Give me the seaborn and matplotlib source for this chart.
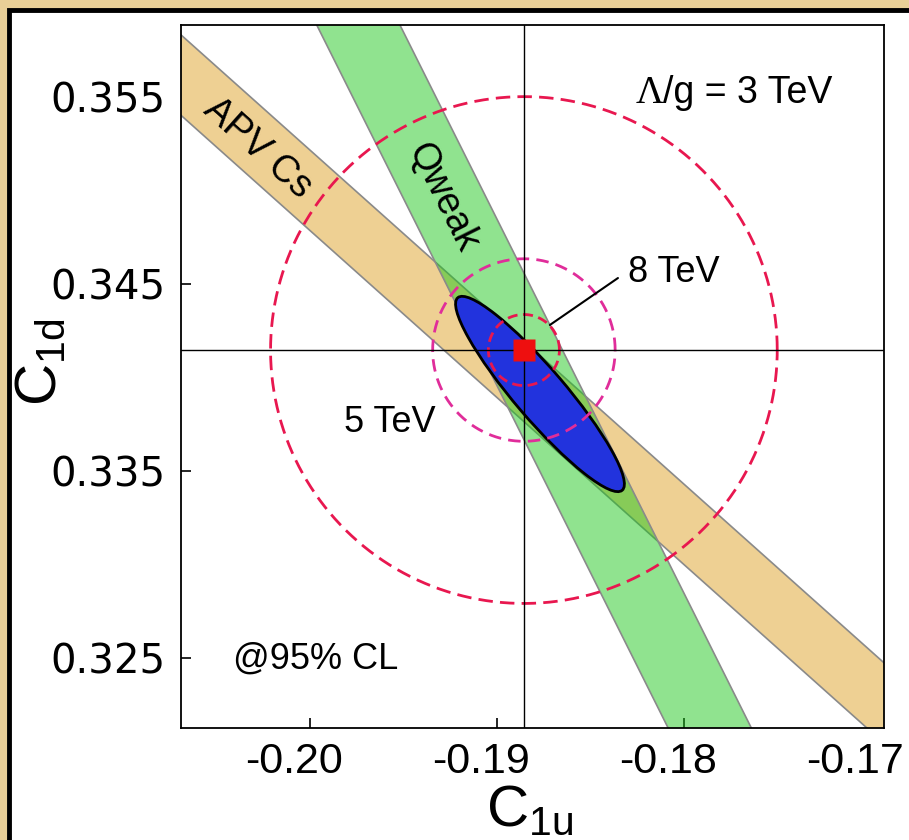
import numpy as np
import pandas as pd
import matplotlib
matplotlib.use("Agg")
import matplotlib.pyplot as plt
import matplotlib.transforms as mtransforms
import seaborn as sns
from matplotlib.patches import Ellipse, Rectangle

# standart model nöqtəsi (C1u, C1d)
sm_point = [-0.18856, 0.34147]

# APV Cs zolağı: C1d + slope*C1u = center +- halfwidth
apv_slope = 0.893
apv_center = 0.17141
apv_halfwidth = 0.00215

# Qweak zolağı
qweak_slope = 2.0
qweak_center = -0.03598
qweak_halfwidth = 0.00445

# birləşmiş ellips (95% CL)
ellipse_center = [-0.18770, 0.33912]
ellipse_axes = [0.00677, 0.00135]
ellipse_angle = -49.5

# Λ/g dairələri
scales = ["3 TeV", "5 TeV", "8 TeV"]
radii = [0.01355, 0.00488, 0.00190]
circle_colors = ["#e8174f", "#e02d9a", "#e8174f"]

xticks = [-0.20, -0.19, -0.18, -0.17]
yticks = [0.325, 0.335, 0.345, 0.355]
xlim = [-0.2069, -0.1693]
ylim = [0.32126, 0.35885]

sns.set_style("white")
plt.rcParams["font.family"] = ["Liberation Sans", "DejaVu Sans"]
plt.rcParams["mathtext.fontset"] = "custom"
plt.rcParams["mathtext.rm"] = "Liberation Sans"
for k in ["text.color", "axes.labelcolor", "xtick.color", "ytick.color"]:
    plt.rcParams[k] = "black"

fig = plt.figure(figsize=(9.09, 8.4), dpi=100, facecolor="#e9cf97")
frame = Rectangle((8.5 / 909, -0.2), 1.2, 1.2 - 9.5 / 840,
                  transform=fig.transFigure, facecolor="white",
                  edgecolor="black", lw=3.5, zorder=-10)
fig.patches.append(frame)
ax = fig.add_axes([181 / 909, 112 / 840, 703 / 909, 703 / 840])
ax.set_zorder(1)

# ======================
# zolaqlar
# ======================
xs = np.linspace(-0.215, -0.16, 50)
apv = pd.DataFrame({"C1u": xs,
                    "lo": apv_center - apv_halfwidth - apv_slope * xs,
                    "hi": apv_center + apv_halfwidth - apv_slope * xs})
qw = pd.DataFrame({"C1u": xs,
                   "lo": qweak_center - qweak_halfwidth - qweak_slope * xs,
                   "hi": qweak_center + qweak_halfwidth - qweak_slope * xs})

ax.fill_between(apv["C1u"], apv["lo"], apv["hi"], color="#eed093", lw=0, zorder=1)
for col in ["lo", "hi"]:
    sns.lineplot(data=apv, x="C1u", y=col, color="#8a8a8a", lw=1.2, ax=ax, zorder=2)
ax.fill_between(qw["C1u"], qw["lo"], qw["hi"], color="#1dc61b", alpha=0.49, lw=0, zorder=3)
for col in ["lo", "hi"]:
    sns.lineplot(data=qw, x="C1u", y=col, color="#8a8a8a", lw=1.2, ax=ax, zorder=4)

# ======================
# ellips
# ======================
ax.add_patch(Ellipse(ellipse_center, 2 * ellipse_axes[0], 2 * ellipse_axes[1],
                     angle=ellipse_angle, facecolor="#2233dd", edgecolor="black",
                     lw=2, zorder=5))

# ======================
# dairələr
# ======================
t = np.linspace(0, 2 * np.pi, 600)
dash_styles = [(0, (5.2, 2.6)), (0, (4.5, 2.6)), (0, (3.6, 2.0))]
for r, c, ls in zip(radii, circle_colors, dash_styles):
    circ = pd.DataFrame({"x": sm_point[0] + r * np.cos(t),
                         "y": sm_point[1] + r * np.sin(t)})
    sns.lineplot(data=circ, x="x", y="y", sort=False, estimator=None,
                 color=c, lw=2.0, linestyle=ls, ax=ax, zorder=6)

ax.axvline(sm_point[0], color="black", lw=1.0, zorder=7)
ax.axhline(sm_point[1], color="black", lw=1.0, zorder=7)
ax.plot([sm_point[0]], [sm_point[1]], marker="s", ms=16, color="#ee0f0f",
        mec="none", zorder=8)

# ======================
# yazılar
# ======================
ax.text(-0.20278, 0.35227, "APV Cs", rotation=-np.degrees(np.arctan(apv_slope)),
        fontsize=27, ha="center", va="center", rotation_mode="anchor", zorder=9)
ax.text(-0.19289, 0.34965, "Qweak", rotation=-np.degrees(np.arctan(qweak_slope)),
        fontsize=27, ha="center", va="center", rotation_mode="anchor", zorder=9)
ax.text(-0.18110, 0.35521, "Λ", fontsize=28, ha="right", va="center",
        family="Liberation Serif")
ax.text(-0.18110, 0.35521, "/g = " + scales[0], fontsize=27, ha="left", va="center")
ax.text(-0.18299, 0.34564, scales[2], fontsize=26, ha="left", va="center")
ax.plot([-0.18717, -0.18353], [0.34281, 0.34532], color="black", lw=1.5, zorder=9)
ax.text(-0.19572, 0.33757, scales[1], fontsize=26, ha="center", va="center")
ax.text(-0.19968, 0.32495, "@95% CL", fontsize=26, ha="center", va="center")

ax.set_xlim(xlim)
ax.set_ylim(ylim)
ax.set_xticks(xticks)
ax.set_yticks(yticks)
ax.set_xticklabels([f"{v:.2f}" for v in xticks], fontsize=31)
ax.set_yticklabels([f"{v:.3f}" for v in yticks], fontsize=29, family="DejaVu Sans")
ax.tick_params(direction="in", length=7, width=1.2, bottom=True, left=True)
ax.tick_params(axis="x", pad=10)
ax.tick_params(axis="y", pad=11)
shift = mtransforms.ScaledTranslation(-0.16, 0, fig.dpi_scale_trans)
for lab in ax.get_xticklabels():
    lab.set_transform(lab.get_transform() + shift)
ax.set_xlabel("")
ax.set_ylabel("")
for s in ax.spines.values():
    s.set_linewidth(1.3)
    s.set_color("black")
    s.set_zorder(10)

fig.text(530 / 909, 1 - 810 / 840, r"C$_{\rm 1u}$", fontsize=42, ha="center", va="center")
fig.text(40 / 909, 1 - 362 / 840, r"C$_{\rm 1d}$", fontsize=42, ha="center", va="center",
         rotation=90)

fig.savefig("out.png", dpi=100, facecolor=fig.get_facecolor())
